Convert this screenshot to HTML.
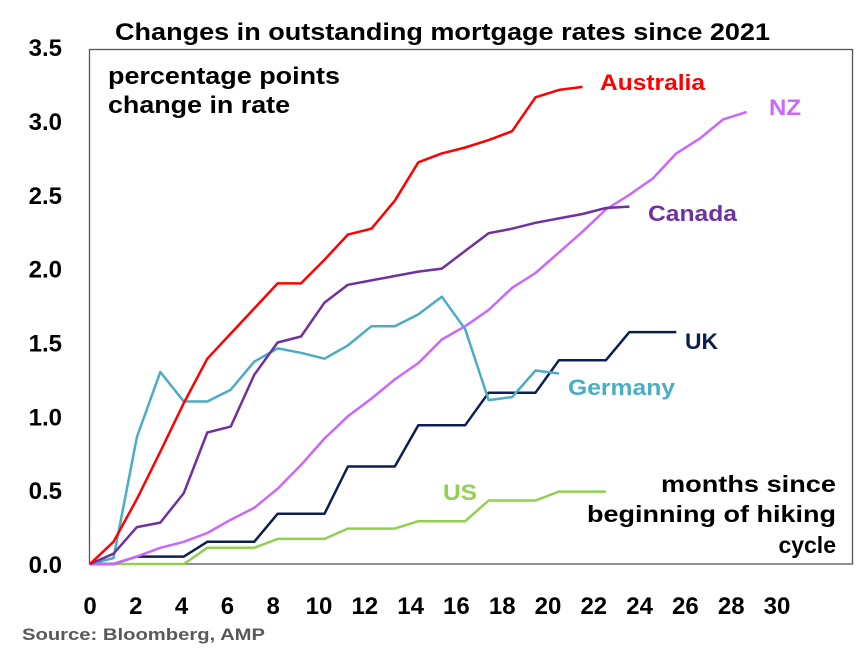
<!DOCTYPE html>
<html><head><meta charset="utf-8"><style>
body{margin:0;background:#fff;width:857px;height:649px;overflow:hidden;font-family:"Liberation Sans",Arial,sans-serif}
svg text{font-family:"Liberation Sans",Arial,sans-serif;font-weight:bold}
</style></head><body>
<svg id="chart" width="857" height="649" viewBox="0 0 857 649" xmlns="http://www.w3.org/2000/svg">
<text x="115" y="40" font-size="24" textLength="655" lengthAdjust="spacingAndGlyphs" fill="#000">Changes in outstanding mortgage rates since 2021</text>
<rect x="89.5" y="49.5" width="763" height="514.5" fill="none" stroke="#555" stroke-width="1.3"/>
<text x="108" y="84" font-size="24" textLength="232" lengthAdjust="spacingAndGlyphs" fill="#000">percentage points</text>
<text x="108" y="113" font-size="24" textLength="182" lengthAdjust="spacingAndGlyphs" fill="#000">change in rate</text>
<g id="yticks"></g><g id="xticks"></g><g id="series"></g>
<text x="661" y="492" font-size="23" textLength="175" lengthAdjust="spacingAndGlyphs" fill="#000">months since</text>
<text x="587" y="522" font-size="23" textLength="249" lengthAdjust="spacingAndGlyphs" fill="#000">beginning of hiking</text>
<text x="836" y="553" font-size="23" text-anchor="end" fill="#000">cycle</text>
<text x="600" y="90" font-size="22" textLength="105" lengthAdjust="spacingAndGlyphs" fill="#ff0000">Australia</text>
<text x="769" y="115" font-size="22" textLength="32" lengthAdjust="spacingAndGlyphs" fill="#cc66ff">NZ</text>
<text x="648" y="221" font-size="22" textLength="89" lengthAdjust="spacingAndGlyphs" fill="#7030a0">Canada</text>
<text x="685" y="349" font-size="22" textLength="33" lengthAdjust="spacingAndGlyphs" fill="#0d1f4f">UK</text>
<text x="568" y="395" font-size="22" textLength="107" lengthAdjust="spacingAndGlyphs" fill="#4bacc6">Germany</text>
<text x="443" y="500" font-size="22" textLength="34" lengthAdjust="spacingAndGlyphs" fill="#92d050">US</text>
<text x="22" y="640" font-size="17" textLength="243" lengthAdjust="spacingAndGlyphs" fill="#595959">Source: Bloomberg, AMP</text>
</svg>
<script>
const yTicks=[0,0.5,1.0,1.5,2.0,2.5,3.0,3.5];
const xTicks=[0,2,4,6,8,10,12,14,16,18,20,22,24,26,28,30];
const australia=[0,0.15,0.44,0.76,1.09,1.39,1.56,1.73,1.90,1.90,2.06,2.23,2.27,2.46,2.72,2.78,2.82,2.87,2.93,3.16,3.21,3.23];
const nz=[0,0.0,0.05,0.11,0.15,0.21,0.30,0.38,0.51,0.67,0.85,1.00,1.12,1.25,1.36,1.52,1.61,1.72,1.87,1.97,2.11,2.25,2.40,2.50,2.61,2.78,2.88,3.01,3.06];
const canada=[0,0.07,0.25,0.28,0.48,0.89,0.93,1.28,1.50,1.54,1.77,1.89,1.92,1.95,1.98,2.00,2.12,2.24,2.27,2.31,2.34,2.37,2.41,2.42];
const germany=[0,0.04,0.86,1.30,1.10,1.10,1.18,1.37,1.46,1.43,1.39,1.48,1.61,1.61,1.69,1.81,1.59,1.11,1.13,1.31,1.29];
const uk=[0,0,0.05,0.05,0.05,0.15,0.15,0.15,0.34,0.34,0.34,0.66,0.66,0.66,0.94,0.94,0.94,1.16,1.16,1.16,1.38,1.38,1.38,1.57,1.57,1.57];
const us=[0,0,0,0,0,0.11,0.11,0.11,0.17,0.17,0.17,0.24,0.24,0.24,0.29,0.29,0.29,0.43,0.43,0.43,0.49,0.49,0.49];
const NS="http://www.w3.org/2000/svg";
const xs=m=>90+m*23.45;
const xl=m=>90+m*22.9;
const ys=v=>564-v*147.7;
const yg=document.getElementById('yticks');
yTicks.forEach(t=>{const e=document.createElementNS(NS,'text');


e.setAttribute('x',62);e.setAttribute('y',ys(t)+9);e.setAttribute('font-size','24');e.setAttribute('text-anchor','end');
e.textContent=t.toFixed(1);yg.appendChild(e);});
const xg=document.getElementById('xticks');
xTicks.forEach(t=>{const e=document.createElementNS(NS,'text');


e.setAttribute('x',xl(t));e.setAttribute('y',614);e.setAttribute('font-size','24');e.setAttribute('text-anchor','middle');
e.textContent=t;xg.appendChild(e);});
const sg=document.getElementById('series');
function line(arr,color,name){const p=document.createElementNS(NS,'polyline');


p.setAttribute('points',arr.map((v,i)=>xs(i).toFixed(1)+','+ys(v).toFixed(1)).join(' '));
p.setAttribute('fill','none');p.setAttribute('stroke',color);p.setAttribute('stroke-width','2.5');p.setAttribute('stroke-linejoin','round');
sg.appendChild(p);}
line(us,'#92d050','us-line');
line(uk,'#0d1f4f','uk-line');
line(nz,'#cc66ff','nz-line');
line(germany,'#4bacc6','germany-line');
line(canada,'#7030a0','canada-line');
line(australia,'#ff0000','australia-line');
</script>
</body></html>
